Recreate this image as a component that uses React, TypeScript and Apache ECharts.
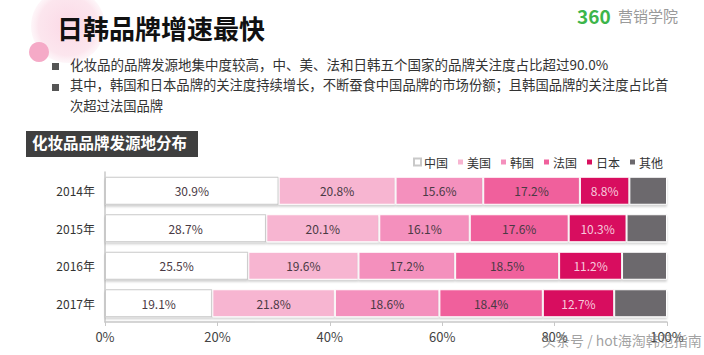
import React, { useEffect, useRef } from "react";
import * as echarts from "echarts";

const years = ["2014年", "2015年", "2016年", "2017年"];
const seriesNames = ["中国", "美国", "韩国", "法国", "日本", "其他"];
const china = [30.9, 28.7, 25.5, 19.1];
const usa = [20.8, 20.1, 19.6, 21.8];
const korea = [15.6, 16.1, 17.2, 18.6];
const france = [17.2, 17.6, 18.5, 18.4];
const japan = [8.8, 10.3, 11.2, 12.7];
const other = [6.7, 7.2, 8.0, 9.4];
const xTicks = ["0%", "20%", "40%", "60%", "80%", "100%"];

const colors = ["#ffffff", "#f7b5d1", "#f490bd", "#f0609c", "#d8105e", "#6c696d"];
const labelColors = ["#4a3a44", "#4a3a44", "#4a3a44", "#4a3a44", "#f7c9dc", ""];
const values = [china, usa, korea, france, japan, other];

export default function App() {
  const ref = useRef<HTMLDivElement>(null);
  useEffect(() => {
    const chart = echarts.init(ref.current!, null, { renderer: "svg" });
    const font = "'Noto Sans CJK SC', 'Noto Sans', sans-serif";
    chart.setOption({
      animation: false,
      textStyle: { fontFamily: font },
      graphic: [
        {
          type: "circle", shape: { cx: 68, cy: 26, r: 37 },
          style: {
            fill: new echarts.graphic.RadialGradient(0.5, 0.5, 0.5, [
              { offset: 0, color: "#fbd9e6" },
              { offset: 0.8, color: "#fce6ee" },
              { offset: 1, color: "rgba(253,240,245,0.6)" },
            ]),
          },
          z: -10,
        },
        { type: "circle", shape: { cx: 39, cy: 52, r: 10 }, style: { fill: "#f5aac7" }, z: -9 },
        {
          type: "text", left: 57, top: 14,
          style: { text: "日韩品牌增速最快", fill: "#111", font: `bold 26px ${font}` },
        },
        {
          type: "text", left: 577, top: 6,
          style: { text: "360", fill: "#3cb54a", font: `bold 19px ${font}` },
        },
        {
          type: "text", left: 618, top: 8,
          style: { text: "营销学院", fill: "#9a9a9a", font: `15px ${font}` },
        },
        { type: "rect", shape: { x: 52, y: 63, width: 7, height: 7 }, style: { fill: "#555" } },
        {
          type: "text", left: 70, top: 57,
          style: { text: "化妆品的品牌发源地集中度较高，中、美、法和日韩五个国家的品牌关注度占比超过90.0%", fill: "#333", font: `13.5px ${font}` },
        },
        { type: "rect", shape: { x: 52, y: 84, width: 7, height: 7 }, style: { fill: "#555" } },
        {
          type: "text", left: 70, top: 78,
          style: { text: "其中，韩国和日本品牌的关注度持续增长，不断蚕食中国品牌的市场份额；且韩国品牌的关注度占比首", fill: "#333", font: `13.3px ${font}` },
        },
        {
          type: "text", left: 70, top: 99,
          style: { text: "次超过法国品牌", fill: "#333", font: `13.3px ${font}` },
        },
        { type: "rect", shape: { x: 26, y: 131, width: 172, height: 26 }, style: { fill: "#3f3f3f" } },
        {
          type: "text", left: 32, top: 134,
          style: { text: "化妆品品牌发源地分布", fill: "#ffffff", font: `bold 15.5px ${font}` },
        },
        {
          type: "text", left: 542, top: 333,
          style: { text: "头条号 / hot海淘韩范指南", fill: "rgba(120,120,120,0.7)", font: `14px ${font}` },
          z: 100,
        },
      ],
      legend: {
        data: seriesNames,
        right: 36,
        top: 151,
        itemWidth: 7,
        itemHeight: 7,
        itemGap: 8,
        icon: "rect",
        textStyle: { fontSize: 12, color: "#333", padding: [0, 0, 0, -2] },
      },
      grid: { left: 105, right: 37, top: 172, bottom: 33, containLabel: false },
      xAxis: {
        type: "value",
        min: 0,
        max: 100,
        interval: 20,
        splitLine: { show: false },
        axisLine: { show: true, lineStyle: { color: "#c8c8c8", width: 1.5 } },
        axisTick: { show: true, length: 4, lineStyle: { color: "#c8c8c8" } },
        axisLabel: {
          color: "#444",
          fontSize: 13,
          margin: 8,
          formatter: (v: number) => xTicks[Math.round(v / 20)],
        },
      },
      yAxis: {
        type: "category",
        data: years,
        inverse: true,
        axisLine: { show: true, lineStyle: { color: "#c8c8c8", width: 1.5 } },
        axisTick: { show: false },
        axisLabel: { color: "#333", fontSize: 12, margin: 10 },
      },
      series: seriesNames.map((name, i) => ({
        name,
        type: "bar",
        stack: "total",
        barWidth: 28,
        data: values[i],
        itemStyle: {
          color: colors[i],
          borderColor: i === 0 ? "#c9c9c9" : "#ffffff",
          borderWidth: 1,
          shadowColor: "rgba(0,0,0,0.18)",
          shadowOffsetY: 2,
          shadowBlur: 2,
        },
        label: {
          show: i < 5,
          position: "inside",
          color: labelColors[i],
          fontSize: 12,
          formatter: (p: any) => `${p.value.toFixed(1)}%`,
        },
      })),
    });
    return () => chart.dispose();
  }, []);
  return <div ref={ref} style={{ width: 704, height: 355, position: "absolute", left: 0, top: 0, background: "#fff" }} />;
}
